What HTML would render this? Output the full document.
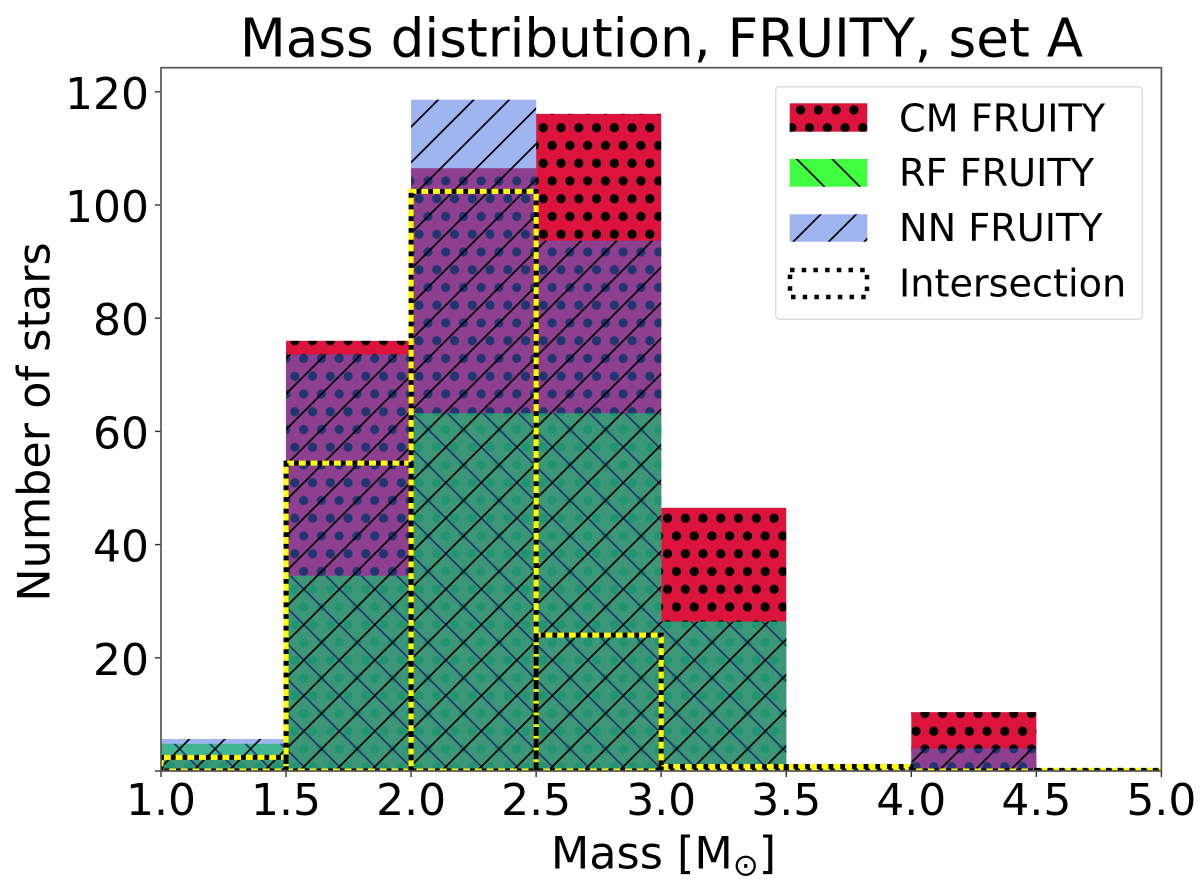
<!DOCTYPE html>
<html lang="en">
<head>
<meta charset="utf-8">
<title>Mass distribution, FRUITY, set A</title>
<style>
html,body{margin:0;padding:0;background:#fff;}
svg{display:block;font-family:"DejaVu Sans","Liberation Sans",sans-serif;fill:#000;filter:blur(0.35px);}
</style>
</head>
<body>
<svg id="chart" xmlns="http://www.w3.org/2000/svg" width="1200" height="891" viewBox="0 0 1200 891">
<defs>
<pattern id="dots" patternUnits="userSpaceOnUse" width="17.75" height="35.5" patternTransform="translate(543.3 127.7)">
<circle cx="0" cy="0" r="4.6"/><circle cx="17.75" cy="0" r="4.6"/><circle cx="0" cy="35.5" r="4.6"/><circle cx="17.75" cy="35.5" r="4.6"/><circle cx="8.875" cy="17.75" r="4.6"/>
</pattern>
<pattern id="hatch-back" patternUnits="userSpaceOnUse" width="35.5" height="35.5" patternTransform="translate(34.2 0)">
<path d="M-3,-3 L38.5,38.5 M-3,32.5 L3,38.5 M32.5,-3 L38.5,3" stroke="#000" stroke-width="1.7" fill="none"/>
</pattern>
<pattern id="hatch-forward" patternUnits="userSpaceOnUse" width="35.5" height="35.5" patternTransform="translate(5.5 0)">
<path d="M-3,38.5 L38.5,-3 M-3,3 L3,-3 M32.5,38.5 L38.5,32.5" stroke="#000" stroke-width="1.7" fill="none"/>
</pattern>
<clipPath id="axes-clip"><rect x="161" y="67.7" width="1000.4" height="703.3"/></clipPath>
</defs>
<rect x="0" y="0" width="1200" height="891" fill="#fff"/>
<text x="661.5" y="56.7" font-size="53.2" text-anchor="middle">Mass distribution, FRUITY, set A</text>
<g id="bars" clip-path="url(#axes-clip)"></g>
<g id="ticks"></g>
<rect x="161" y="67.7" width="1000.4" height="703.3" fill="none" stroke="#555" stroke-width="1.7"/>
<text x="663.5" y="868.3" font-size="44.5" text-anchor="middle">Mass [M<tspan font-size="31" dy="7">⊙</tspan><tspan dy="-7">]</tspan></text>
<text transform="translate(49.3 422) rotate(-90)" font-size="44.5" text-anchor="middle">Number of stars</text>
<g>
<rect x="775.7" y="86.7" width="366.6" height="232.6" rx="4" fill="#fff" fill-opacity="0.8" stroke="#ddd" stroke-width="1.5"/>
<g>
<rect x="789.7" y="103.3" width="77.6" height="28.4" fill="#dc143c"/>
<rect x="789.7" y="103.3" width="77.6" height="28.4" fill="url(#dots)"/>
<text x="899" y="131.7" font-size="38.2">CM FRUITY</text>
</g>
<g>
<rect x="789.7" y="159" width="77.6" height="27.7" fill="#00ff00" fill-opacity="0.75"/>
<rect x="789.7" y="159" width="77.6" height="27.7" fill="url(#hatch-back)"/>
<text x="899" y="186" font-size="38.2">RF FRUITY</text>
</g>
<g>
<rect x="789.7" y="214.3" width="77.6" height="27.4" fill="#4169e1" fill-opacity="0.5"/>
<rect x="789.7" y="214.3" width="77.6" height="27.4" fill="url(#hatch-forward)"/>
<text x="899" y="241" font-size="38.2">NN FRUITY</text>
</g>
<g>
<rect x="790" y="270" width="77" height="27" fill="none" stroke="#000" stroke-width="4.5" stroke-dasharray="4.5 7.2"/>
<text x="899" y="296.7" font-size="38.2">Intersection</text>
</g>
</g>
</svg>
<script>
const binStarts = [1.0, 1.5, 2.0, 2.5, 3.0, 3.5, 4.0, 4.5];
const binWidth = 0.5;
const cmCounts = [2.8, 76, 106.5, 116.1, 46.5, 0, 10.4, 0];
const rfCounts = [4.8, 34.5, 63.2, 63.2, 26.4, 0, 0, 0];
const nnCounts = [5.65, 73.6, 118.6, 93.7, 26.4, 0, 4, 0];
const intersectionCounts = [2.4, 54.4, 102.4, 24, 0.8, 0.8, 0, 0.1];
const xTickValues = [1.0, 1.5, 2.0, 2.5, 3.0, 3.5, 4.0, 4.5, 5.0];
const yTickValues = [0, 20, 40, 60, 80, 100, 120];
const yTickLabels = ['', '20', '40', '60', '80', '100', '120'];

const NS = 'http://www.w3.org/2000/svg';
function xScale(v) { return 161 + 250.1 * (v - 1); }
function yScale(v) { return 771 - 5.66 * v; }
const barsGroup = document.getElementById('bars');
const ticksGroup = document.getElementById('ticks');

function drawSeries(counts, seriesName, color, opacity, patternId) {
  counts.forEach(function (count, i) {
    if (count <= 0) return;
    const x0 = xScale(binStarts[i]);
    const x1 = xScale(binStarts[i] + binWidth);
    const top = yScale(count);
    const base = yScale(0);
    const fill = document.createElementNS(NS, 'rect');
    
    
    fill.setAttribute('x', x0);
    fill.setAttribute('y', top);
    fill.setAttribute('width', x1 - x0);
    fill.setAttribute('height', base - top);
    fill.setAttribute('fill', color);
    fill.setAttribute('fill-opacity', opacity);
    barsGroup.appendChild(fill);
    const hatch = document.createElementNS(NS, 'rect');
    
    
    hatch.setAttribute('x', x0);
    hatch.setAttribute('y', top);
    hatch.setAttribute('width', x1 - x0);
    hatch.setAttribute('height', base - top);
    hatch.setAttribute('fill', 'url(#' + patternId + ')');
    barsGroup.appendChild(hatch);
  });
}

function outlinePath(i) {
  const x0 = xScale(binStarts[i]);
  const x1 = xScale(binStarts[i] + binWidth);
  const top = yScale(intersectionCounts[i]);
  const base = yScale(0);
  return 'M' + x0 + ' ' + base + ' L' + x0 + ' ' + top + ' L' + x1 + ' ' + top + ' L' + x1 + ' ' + base + ' Z';
}

function drawIntersection() {
  intersectionCounts.forEach(function (count, i) {
    const under = document.createElementNS(NS, 'path');
    
    
    under.setAttribute('d', outlinePath(i));
    under.setAttribute('fill', 'none');
    under.setAttribute('stroke', '#ffff00');
    under.setAttribute('stroke-width', '5');
    barsGroup.appendChild(under);
  });
  intersectionCounts.forEach(function (count, i) {
    const over = document.createElementNS(NS, 'path');
    
    
    over.setAttribute('d', outlinePath(i));
    over.setAttribute('fill', 'none');
    over.setAttribute('stroke', '#000');
    over.setAttribute('stroke-width', '5');
    over.setAttribute('stroke-dasharray', '4.8 6.9');
    barsGroup.appendChild(over);
  });
}

function drawTicks() {
  xTickValues.forEach(function (v) {
    const x = xScale(v);
    const tick = document.createElementNS(NS, 'line');
    
    
    tick.setAttribute('x1', x);
    tick.setAttribute('x2', x);
    tick.setAttribute('y1', 771);
    tick.setAttribute('y2', 777);
    tick.setAttribute('stroke', '#333');
    tick.setAttribute('stroke-width', '1.4');
    ticksGroup.appendChild(tick);
    const label = document.createElementNS(NS, 'text');
    
    
    label.setAttribute('x', x);
    label.setAttribute('y', 815);
    label.setAttribute('font-size', '44');
    label.setAttribute('text-anchor', 'middle');
    label.textContent = v.toFixed(1);
    ticksGroup.appendChild(label);
  });
  yTickValues.forEach(function (v, i) {
    const y = yScale(v);
    const tick = document.createElementNS(NS, 'line');
    
    
    tick.setAttribute('x1', 155);
    tick.setAttribute('x2', 161);
    tick.setAttribute('y1', y);
    tick.setAttribute('y2', y);
    tick.setAttribute('stroke', '#333');
    tick.setAttribute('stroke-width', '1.4');
    ticksGroup.appendChild(tick);
    const label = document.createElementNS(NS, 'text');
    
    
    label.setAttribute('x', 149);
    label.setAttribute('y', y + 17);
    label.setAttribute('font-size', '44');
    label.setAttribute('text-anchor', 'end');
    label.textContent = yTickLabels[i];
    ticksGroup.appendChild(label);
  });
}

drawSeries(cmCounts, 'cm', '#dc143c', 1, 'dots');
drawSeries(rfCounts, 'rf', '#00ff00', 0.75, 'hatch-back');
drawSeries(nnCounts, 'nn', '#4169e1', 0.5, 'hatch-forward');
drawIntersection();
drawTicks();
</script>
</body>
</html>
